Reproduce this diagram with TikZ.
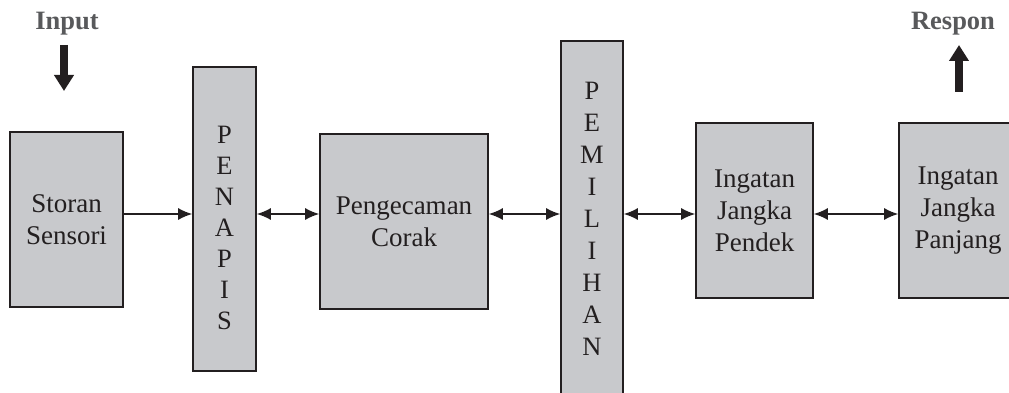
\documentclass[tikz,border=0pt]{standalone}
\usepackage{fontspec}
\setmainfont{Liberation Serif}
\usetikzlibrary{arrows.meta}
\definecolor{boxgray}{RGB}{200,201,204}
\definecolor{labelgray}{RGB}{88,89,91}
\definecolor{inkblack}{RGB}{35,31,32}
\tikzset{
 box/.style={draw=inkblack,line width=1.6pt,fill=boxgray,inner sep=0pt,align=center,
   text=inkblack,font=\fontsize{27}{32}\selectfont},
 vtext/.style={inner sep=0pt,align=center,text=inkblack,font=\fontsize{26.5}{31}\selectfont},
 io/.style={inner sep=0pt,text=labelgray,font=\bfseries\fontsize{26.5}{32}\selectfont},
 link/.style={inkblack,line width=1.5pt,-{Latex[length=14pt,width=12pt]}},
 twolink/.style={link,{Latex[length=14pt,width=12pt]}-{Latex[length=14pt,width=12pt]}},
 bigarrow/.style={inkblack,line width=7.5pt,-{Triangle[length=16pt,width=19pt]}},
}
\begin{document}
\begin{tikzpicture}[x=1pt,y=-1pt]
\useasboundingbox (0,0) rectangle (1009,393);
\clip (0,0) rectangle (1009,393);
%%
 \coordinate (axis) at (0,214);
 \node (storan) at (66.5,219.5) [box,minimum width=113pt,minimum height=175pt] {Storan\\Sensori};
 \node (penapis) at (224.5,219) [box,minimum width=63pt,minimum height=304pt] {};
 \node (penapis_txt) at ([yshift=-9pt]penapis.center) [vtext] {P\\E\\N\\A\\P\\I\\S};
 \node (pengecaman) at (404,221.5) [box,minimum width=168pt,minimum height=175pt] {Pengecaman\\Corak};
 \node (pemilihan) at (592,220.5) [box,minimum width=62pt,minimum height=359pt] {};
 \node (pemilihan_txt) at ([yshift=2pt]pemilihan.center) [vtext,font=\fontsize{26.5}{32}\selectfont] {P\\E\\M\\I\\L\\I\\H\\A\\N};
 \node (pendek) at (754.5,210.5) [box,minimum width=117pt,minimum height=175pt] {Ingatan\\Jangka\\Pendek};
 \node (panjang) at (958,210.5) [box,minimum width=118pt,minimum height=175pt] {Ingatan\\Jangka\\Panjang};
%
 \node (input) at (67,24) [io] {Input};
 \node (respon) at (953,23.5) [io] {Respon};
 \coordinate (input_top) at (64,45);
 \coordinate (input_tip) at (64,91);
 \coordinate (respon_foot) at (959,92);
 \coordinate (respon_tip) at (959,45);
%
  \draw [bigarrow] (input_top) -- (input_tip);
  \draw [bigarrow] (respon_foot) -- (respon_tip);
  \draw [link] (storan.east |- axis) -- (penapis.west |- axis);
  \draw [twolink] (penapis.east |- axis) -- (pengecaman.west |- axis);
  \draw [twolink] (pengecaman.east |- axis) -- (pemilihan.west |- axis);
  \draw [twolink] (pemilihan.east |- axis) -- (pendek.west |- axis);
  \draw [twolink] (pendek.east |- axis) -- (panjang.west |- axis);
%
\end{tikzpicture}
\end{document}
